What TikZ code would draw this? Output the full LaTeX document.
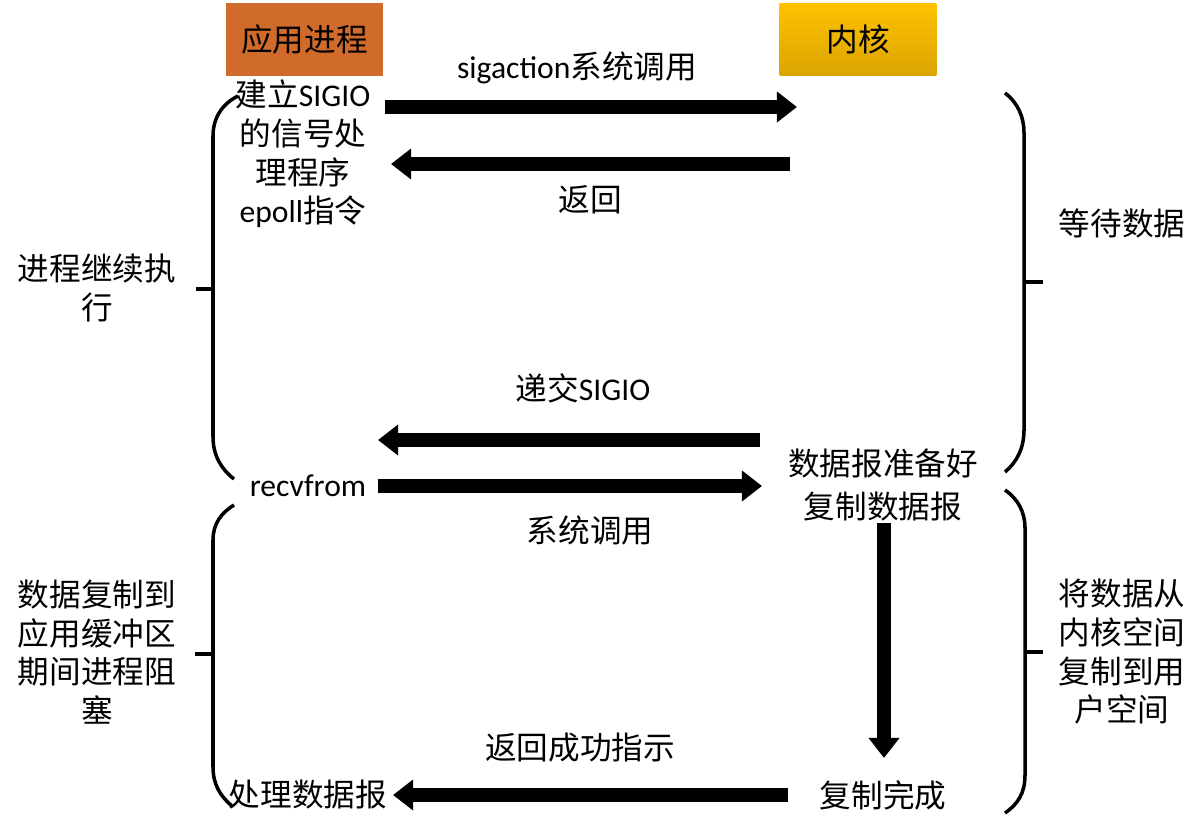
\documentclass[tikz,border=0pt]{standalone}
\usepackage{fontspec}
\setmainfont{Noto Sans CJK SC}
\newfontfamily\lat{Carlito}
\usetikzlibrary{arrows.meta}
\definecolor{appfill}{RGB}{209,107,44}
\definecolor{kerntop}{RGB}{255,194,0}
\definecolor{kernbot}{RGB}{218,164,0}
\begin{document}
\begin{tikzpicture}[x=0.02cm, y=-0.02cm,
  txt/.style={align=center, inner sep=0pt, font=\fontsize{18}{22}\selectfont},
  hdr/.style={txt, minimum width=3.14cm, minimum height=1.46cm},
  bigarrow/.style={line width=8pt, -{Triangle[width=17pt, length=11.5pt]}},
  brace/.style={line width=2pt}]
\useasboundingbox (0,0) rectangle (1203,827);
\node[hdr, fill=appfill] (app) at (304.5,39.5){应用进程};
\node[hdr, top color=kerntop, bottom color=kernbot] (kern) at (858,39.5){内核};
\node[txt] (setup) at (303,154){建立{\lat SIGIO}\\的信号处\\理程序\\{\lat epoll}指令};
\node[txt] (sigcall) at (577,68){{\lat sigaction}系统调用};
\node[txt] (ret) at (590,200){返回};
\node[txt] (cont) at (97,288){进程继续执\\行};
\node[txt] (wait) at (1122,223){等待数据};
\node[txt] (deliver) at (583,388){递交{\lat SIGIO}};
\node[txt] (recv) at (308,486){\lat recvfrom};
\node[txt] (syscall) at (590,530){系统调用};
\node[txt] (ready) at (883,463){数据报准备好};
\node[txt] (copy) at (883,507){复制数据报};
\node[txt] (done) at (883,795){复制完成};
\node[txt] (okret) at (580,748){返回成功指示};
\node[txt] (proc) at (308,795){处理数据报};
\node[txt] (block) at (97,652){数据复制到\\应用缓冲区\\期间进程阻\\塞};
\node[txt] (move) at (1122,652){将数据从\\内核空间\\复制到用\\户空间};
\coordinate (s1) at (385,107);
\coordinate (k1) at (797,107);
\coordinate (k2) at (790,164);
\coordinate (s2) at (391,164);
\coordinate (k3) at (760,440);
\coordinate (s3) at (378,440);
\coordinate (s4) at (378,486);
\coordinate (k4) at (762,486);
\coordinate (k5) at (884,523);
\coordinate (k6) at (884,758);
\coordinate (k7) at (788,795);
\coordinate (s7) at (393,795);
\draw[bigarrow](s1) -- (k1);
\draw[bigarrow](k2) -- (s2);
\draw[bigarrow](k3) -- (s3);
\draw[bigarrow](s4) -- (k4);
\draw[bigarrow](k5) -- (k6);
\draw[bigarrow](k7) -- (s7);
\draw[brace](238,96) .. controls (222,104) and (213,118) .. (213,136) -- (213,437) .. controls (213,455) and (221,469) .. (234,479);
\draw[brace](196,289) -- (213,289);
\draw[brace](234,505) .. controls (221,513) and (213,524) .. (213,540) -- (213,767) .. controls (213,784) and (220,796) .. (232,806);
\draw[brace](195,654) -- (213,654);
\draw[brace](1005,93) .. controls (1018,103) and (1024,117) .. (1024,133) -- (1024,430) .. controls (1024,448) and (1017,462) .. (1005,472);
\draw[brace](1024,282) -- (1043,282);
\draw[brace](1005,490) .. controls (1018,499) and (1025,512) .. (1025,528) -- (1025,775) .. controls (1025,793) and (1018,804) .. (1005,813);
\draw[brace](1025,652) -- (1043,652);
\end{tikzpicture}
\end{document}
